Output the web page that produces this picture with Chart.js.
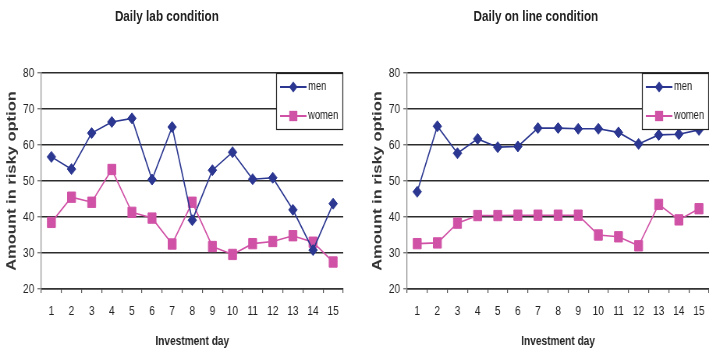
<!DOCTYPE html>
<html>
<head>
<meta charset="utf-8">
<script src="https://cdn.jsdelivr.net/npm/chart.js@4/dist/chart.umd.min.js"></script>
<style>
  html, body { margin: 0; padding: 0; background: #fff; }
  #wrap { position: relative; width: 709px; height: 349px; overflow: hidden; background: #fff; }
  /* the drawing is laid out wide and condensed horizontally */
  #stage { position: absolute; left: 0; top: 0; width: 909px; height: 349px; transform: scaleX(0.78); transform-origin: 0 0; }
  .panel { position: absolute; top: 0; width: 454px; height: 349px; }
  .title {
    position: absolute; top: 8px; width: 360px; text-align: center;
    font: bold 15px "Liberation Sans", Arial, sans-serif;
    line-height: 1; color: #222; white-space: nowrap;
  }
</style>
</head>
<body>
<div id="wrap">
  <div id="stage">
    <div class="title" style="left:34px">Daily lab condition</div>
    <div class="title" style="left:507px">Daily on line condition</div>
    <div class="panel" style="left:0"><canvas id="lab" width="454" height="349"></canvas></div>
    <div class="panel" style="left:469px"><canvas id="online" width="454" height="349"></canvas></div>
  </div>
</div>
<script>
// Investment days on the x axis
const days = ['1','2','3','4','5','6','7','8','9','10','11','12','13','14','15'];

// Amount placed in the risky option, lab sessions
const labMen   = [56.7, 53.3, 63.3, 66.4, 67.4, 50.4, 65.0, 39.1, 53.0, 58.0, 50.5, 50.9, 42.0, 30.8, 43.7];
const labWomen = [38.5, 45.5, 44.1, 53.2, 41.3, 39.7, 32.5, 44.1, 31.8, 29.6, 32.6, 33.2, 34.8, 33.0, 27.5];

// Amount placed in the risky option, on line sessions
const onlineMen   = [47.0, 65.2, 57.7, 61.7, 59.4, 59.6, 64.7, 64.7, 64.5, 64.5, 63.5, 60.3, 62.8, 63.0, 64.2];
const onlineWomen = [32.6, 32.8, 38.3, 40.4, 40.4, 40.5, 40.5, 40.5, 40.5, 35.0, 34.5, 32.0, 43.5, 39.2, 42.3];

// Value axis range
const yMin = 20, yMax = 80, yStep = 10;

const MEN_COLOR = '#2b3790';
const WOMEN_COLOR = '#d052a6';
const SANS = '"Liberation Sans", Arial, sans-serif';

// Boxed legend in the top-right corner of the plot
const boxLegend = {
  id: 'boxLegend',
  afterDraw(chart) {
    const { ctx, chartArea } = chart;
    const w = 86, h = 57;
    const x = chartArea.right - w, y = chartArea.top;
    ctx.save();
    ctx.fillStyle = '#fff';
    ctx.fillRect(x, y, w, h);
    ctx.strokeStyle = '#222';
    ctx.lineWidth = 1.2;
    ctx.strokeRect(x + 0.5, y + 0.5, w - 1, h - 1);
    chart.data.datasets.forEach((ds, i) => {
      const cy = y + 14 + i * 29;
      const mx = x + 22;
      ctx.strokeStyle = ds.borderColor;
      ctx.lineWidth = 2;
      ctx.beginPath();
      ctx.moveTo(x + 5, cy); ctx.lineTo(x + 39, cy);
      ctx.stroke();
      ctx.fillStyle = ds.borderColor;
      ctx.beginPath();
      if (ds.pointStyle === 'rectRot') {
        const r = ds.pointRadius;
        ctx.moveTo(mx, cy - r); ctx.lineTo(mx + r, cy); ctx.lineTo(mx, cy + r); ctx.lineTo(mx - r, cy);
      } else {
        const s = ds.pointRadius * Math.SQRT1_2;
        ctx.rect(mx - s, cy - s, 2 * s, 2 * s);
      }
      ctx.closePath();
      ctx.fill();
      ctx.fillStyle = '#222';
      ctx.font = '12px ' + SANS;
      ctx.textBaseline = 'middle';
      ctx.textAlign = 'left';
      ctx.fillText(ds.label, x + 41, cy);
    });
    ctx.restore();
  }
};

function series(label, data, color, style, radius) {
  return {
    label, data,
    borderColor: color, backgroundColor: color,
    borderWidth: 1.6,
    pointStyle: style,
    pointRadius: radius, pointHoverRadius: radius,
    pointBorderWidth: 1,
    tension: 0, fill: false
  };
}

function makeChart(id, men, women) {
  return new Chart(document.getElementById(id), {
    type: 'line',
    data: {
      labels: days,
      datasets: [
        series('men', men, MEN_COLOR, 'rectRot', 5.5),
        series('women', women, WOMEN_COLOR, 'rect', 7.3)
      ]
    },
    options: {
      responsive: false,
      animation: false,
      devicePixelRatio: 1,
      layout: { padding: { top: 73, left: 0, right: 14, bottom: 0 } },
      plugins: { legend: { display: false }, tooltip: { enabled: false }, title: { display: false } },
      scales: {
        x: {
          type: 'category',
          offset: true,
          afterFit: s => { s.height = 60; },
          grid: { display: true, drawOnChartArea: false, drawTicks: true, tickLength: 4, offset: true, color: '#555', lineWidth: 1.2 },
          border: { display: true, color: '#333', width: 1.5 },
          ticks: { padding: 11, color: '#222', font: { family: SANS, size: 13 }, maxRotation: 0, autoSkip: false },
          title: { display: true, text: 'Investment day', color: '#222', font: { family: SANS, size: 13, weight: 'bold' }, padding: { top: 0, bottom: 0 } }
        },
        y: {
          min: yMin, max: yMax,
          afterFit: s => { s.width = 53; },
          grid: { color: '#2c2c2c', lineWidth: 1.5, tickLength: 5, tickColor: '#666', tickWidth: 1.2 },
          border: { display: true, color: '#8a8a8a', width: 1.2 },
          ticks: { stepSize: yStep, padding: 4, color: '#222', font: { family: SANS, size: 13 } },
          title: { display: true, text: 'Amount in risky option', color: '#333', font: { family: SANS, size: 16.5, weight: 'bold' }, padding: { top: 6, bottom: 0 } }
        }
      }
    },
    plugins: [boxLegend]
  });
}

makeChart('lab', labMen, labWomen);
makeChart('online', onlineMen, onlineWomen);
</script>
</body>
</html>
